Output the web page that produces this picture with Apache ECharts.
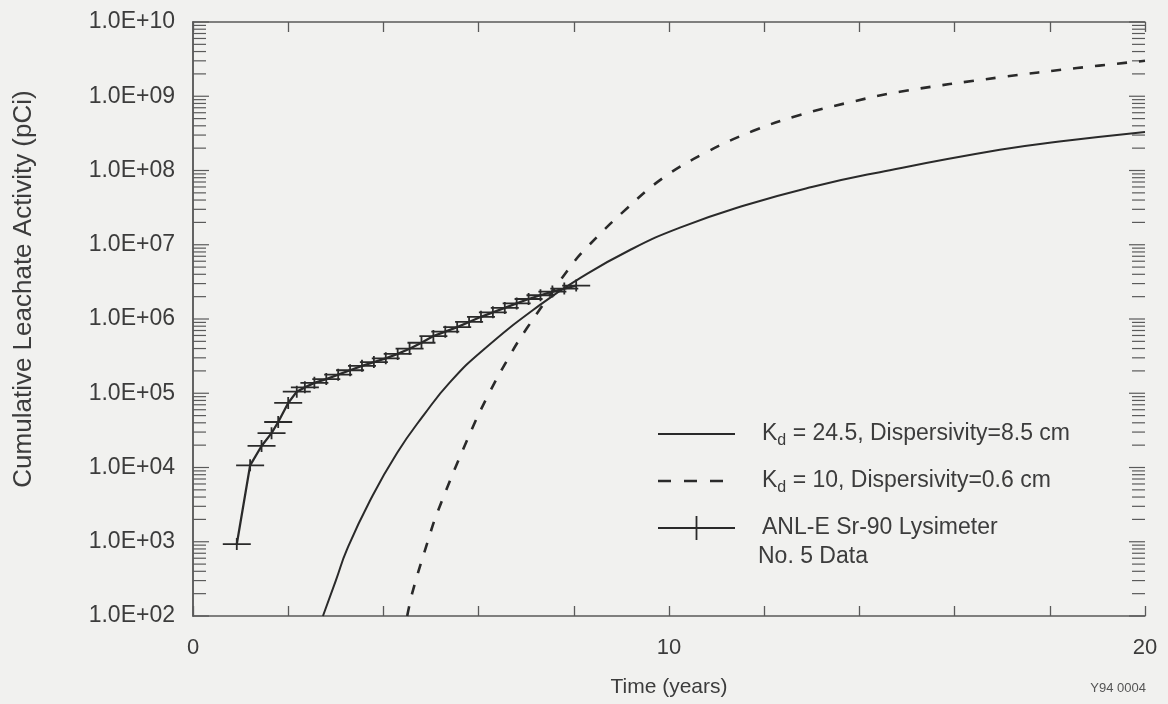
<!DOCTYPE html>
<html>
<head>
<meta charset="utf-8">
<script src="https://cdn.jsdelivr.net/npm/echarts@6/dist/echarts.min.js"></script>
<style>
html,body{margin:0;padding:0;background:#f1f1ef;}
#chart{width:1168px;height:704px;}
</style>
</head>
<body>
<div id="chart"></div>
<script>
// ---- data ----
const solidName = 'Kd = 24.5, Dispersivity=8.5 cm';
const dashName = 'Kd = 10, Dispersivity=0.6 cm';
const dataName = 'ANL-E Sr-90 Lysimeter';

const solidYears = [2.73, 3.0, 3.24, 3.72, 4.29, 4.85, 5.4, 6.09, 7.29, 8.13, 9.18, 10.23, 11.6, 13.0, 14.43, 16.95, 18.2, 20];
const solidValues = [1.0e2, 3.0e2, 8.0e2, 3.6e3, 1.58e4, 5.1e4, 1.41e5, 3.8e5, 1.55e6, 3.55e6, 8.5e6, 1.7e7, 3.4e7, 6.0e7, 9.5e7, 1.9e8, 2.45e8, 3.3e8];

const dashYears = [4.5, 4.62, 4.94, 5.13, 5.76, 6.18, 6.70, 7.02, 7.92, 8.28, 9.03, 9.87, 10.8, 11.76, 12.75, 13.8, 14.85, 16.95, 18.57, 20];
const dashValues = [1.0e2, 2.2e2, 1.05e3, 2.45e3, 2.35e4, 8.9e4, 3.6e5, 7.6e5, 5.0e6, 9.3e6, 2.75e7, 7.9e7, 1.78e8, 3.4e8, 5.6e8, 8.3e8, 1.15e9, 1.8e9, 2.4e9, 3.0e9];

const obsYears = [0.92, 1.2, 1.44, 1.65, 1.79, 2.0, 2.18, 2.35, 2.55, 2.8, 3.05, 3.3, 3.55, 3.8, 4.05, 4.3, 4.55, 4.8, 5.05, 5.3, 5.55, 5.8, 6.05, 6.3, 6.55, 6.8, 7.05, 7.3, 7.55, 7.8, 8.05];
const obsValues = [9.3e2, 1.07e4, 1.95e4, 2.9e4, 4.1e4, 7.4e4, 1.05e5, 1.2e5, 1.38e5, 1.55e5, 1.78e5, 2.04e5, 2.34e5, 2.63e5, 2.95e5, 3.39e5, 3.98e5, 4.79e5, 5.89e5, 6.76e5, 7.76e5, 9.12e5, 1.07e6, 1.23e6, 1.41e6, 1.62e6, 1.86e6, 2.09e6, 2.34e6, 2.57e6, 2.82e6];

const xTickLabels = [0, 10, 20];
const yMinExp = 2, yMaxExp = 10;

// ---- helpers ----
const pair = (xs, ys) => xs.map((x, i) => [x, ys[i]]);
const yTickVals = [];
for (let e = yMinExp; e <= yMaxExp; e++) {
  yTickVals.push([0, Math.pow(10, e), 1]);
  if (e < yMaxExp) for (let m = 2; m <= 9; m++) yTickVals.push([0, m * Math.pow(10, e), 0]);
}
const FONT = '"Liberation Sans", Arial, sans-serif';
const TXT = '#3c3c3c';
const INK = '#2a2a2a';
const AX = '#5a5a5a';

// tiny corner dots keep the icon's bounding box at full item size
const BOX = 'M0,0H0.05V0.05H0Z M76.95,23.95H77V24H76.95Z ';
const crossPath = 'path://M0,5.1H28V6.9H0Z M13.1,0H14.9V12H13.1Z';
const legendSolid = 'path://' + BOX + 'M0,11H77V13H0Z';
const legendDash = 'path://' + BOX + 'M0,10.8H13V13.2H0Z M26,10.8H39V13.2H26Z M52,10.8H65V13.2H52Z';
const legendCross = 'path://' + BOX + 'M0,11.1H77V12.9H0Z M37.6,0H39.4V24H37.6Z';

const legendText = {
  [solidName]: '{sp| }{t|K}{d|d}{t| = 24.5, Dispersivity=8.5 cm}',
  [dashName]: '{sp| }{t|K}{d|d}{t| = 10, Dispersivity=0.6 cm}',
  [dataName]: '{sp| }{t|ANL-E Sr-90 Lysimeter}'
};

const chart = echarts.init(document.getElementById('chart'), null, {renderer: 'canvas'});
const xAxisBase = {
  type: 'value', min: 0, max: 20, interval: 2,
  axisLine: {lineStyle: {color: AX, width: 1.5}},
  axisTick: {inside: true, length: 10, lineStyle: {color: AX, width: 1.3}},
  splitLine: {show: false}
};
const yAxisBase = {
  type: 'log', logBase: 10, min: Math.pow(10, yMinExp), max: Math.pow(10, yMaxExp), splitNumber: 8,
  axisLine: {lineStyle: {color: AX, width: 1.5}},
  axisTick: {show: false},
  minorTick: {show: false},
  splitLine: {show: false}
};

chart.setOption({
  backgroundColor: '#f1f1ef',
  animation: false,
  grid: {left: 193, right: 23, top: 22, bottom: 88, containLabel: false},
  xAxis: [
    Object.assign({}, xAxisBase, {
      position: 'bottom',
      name: 'Time (years)', nameLocation: 'middle', nameGap: 61,
      nameTextStyle: {fontFamily: FONT, fontSize: 21, color: TXT},
      axisLabel: {
        fontFamily: FONT, fontSize: 22, color: TXT, margin: 21,
        formatter: v => xTickLabels.indexOf(v) >= 0 ? String(v) : ''
      }
    }),
    Object.assign({}, xAxisBase, {position: 'top', axisLabel: {show: false}})
  ],
  yAxis: [
    Object.assign({}, yAxisBase, {
      position: 'left',
      axisLabel: {
        fontFamily: FONT, fontSize: 23, color: TXT, margin: 18,
        formatter: v => '1.0E+' + String(Math.round(Math.log10(v))).padStart(2, '0')
      }
    }),
    Object.assign({}, yAxisBase, {position: 'right', axisLabel: {show: false}})
  ],
  legend: {
    orient: 'vertical', left: 653, top: 417,
    itemWidth: 77, itemHeight: 24, itemGap: 20,
    symbolKeepAspect: false,
    data: [
      {name: solidName, icon: legendSolid},
      {name: dashName, icon: legendDash},
      {name: dataName, icon: legendCross}
    ],
    formatter: n => legendText[n],
    textStyle: {
      fontFamily: FONT, color: TXT,
      rich: {
        sp: {width: 22},
        t: {fontFamily: FONT, fontSize: 23, color: TXT, lineHeight: 30},
        d: {fontFamily: FONT, fontSize: 16, color: TXT, verticalAlign: 'bottom', lineHeight: 30}
      }
    },
    selectedMode: false
  },
  graphic: [
    {type: 'text', left: 758, top: 545, style: {text: 'No. 5 Data', font: '23px ' + FONT, fill: TXT}},
    {type: 'text', x: 24, y: 289, rotation: Math.PI / 2,
     style: {text: 'Cumulative Leachate Activity (pCi)', font: '26px ' + FONT, fill: TXT, align: 'center', verticalAlign: 'middle'}},
    {type: 'text', right: 22, top: 682, style: {text: 'Y94 0004', font: '13px ' + FONT, fill: '#555'}}
  ],
  series: [
    {
      name: solidName, type: 'line', data: pair(solidYears, solidValues),
      symbol: 'none', smooth: 0.5, clip: true,
      lineStyle: {color: INK, width: 2}, itemStyle: {color: INK}
    },
    {
      name: dashName, type: 'line', data: pair(dashYears, dashValues),
      symbol: 'none', smooth: 0.4, clip: true,
      lineStyle: {color: INK, width: 2.6, type: [10, 12]}, itemStyle: {color: INK}
    },
    {
      name: dataName, type: 'line', data: pair(obsYears, obsValues),
      symbol: crossPath, symbolSize: [28, 12], showSymbol: true, showAllSymbol: true,
      lineStyle: {color: INK, width: 2.3}, itemStyle: {color: INK}
    },
    {
      type: 'custom', silent: true, data: yTickVals, clip: false,
      renderItem: (params, api) => {
        const cs = params.coordSys;
        const y = api.coord([0, api.value(1)])[1];
        const len = api.value(2) ? 16 : 13;
        const st = {stroke: AX, lineWidth: 1.2};
        return {type: 'group', children: [
          {type: 'line', shape: {x1: cs.x, y1: y, x2: cs.x + len, y2: y}, style: st},
          {type: 'line', shape: {x1: cs.x + cs.width - len, y1: y, x2: cs.x + cs.width, y2: y}, style: st}
        ]};
      }
    }
  ]
});
</script>
</body>
</html>
